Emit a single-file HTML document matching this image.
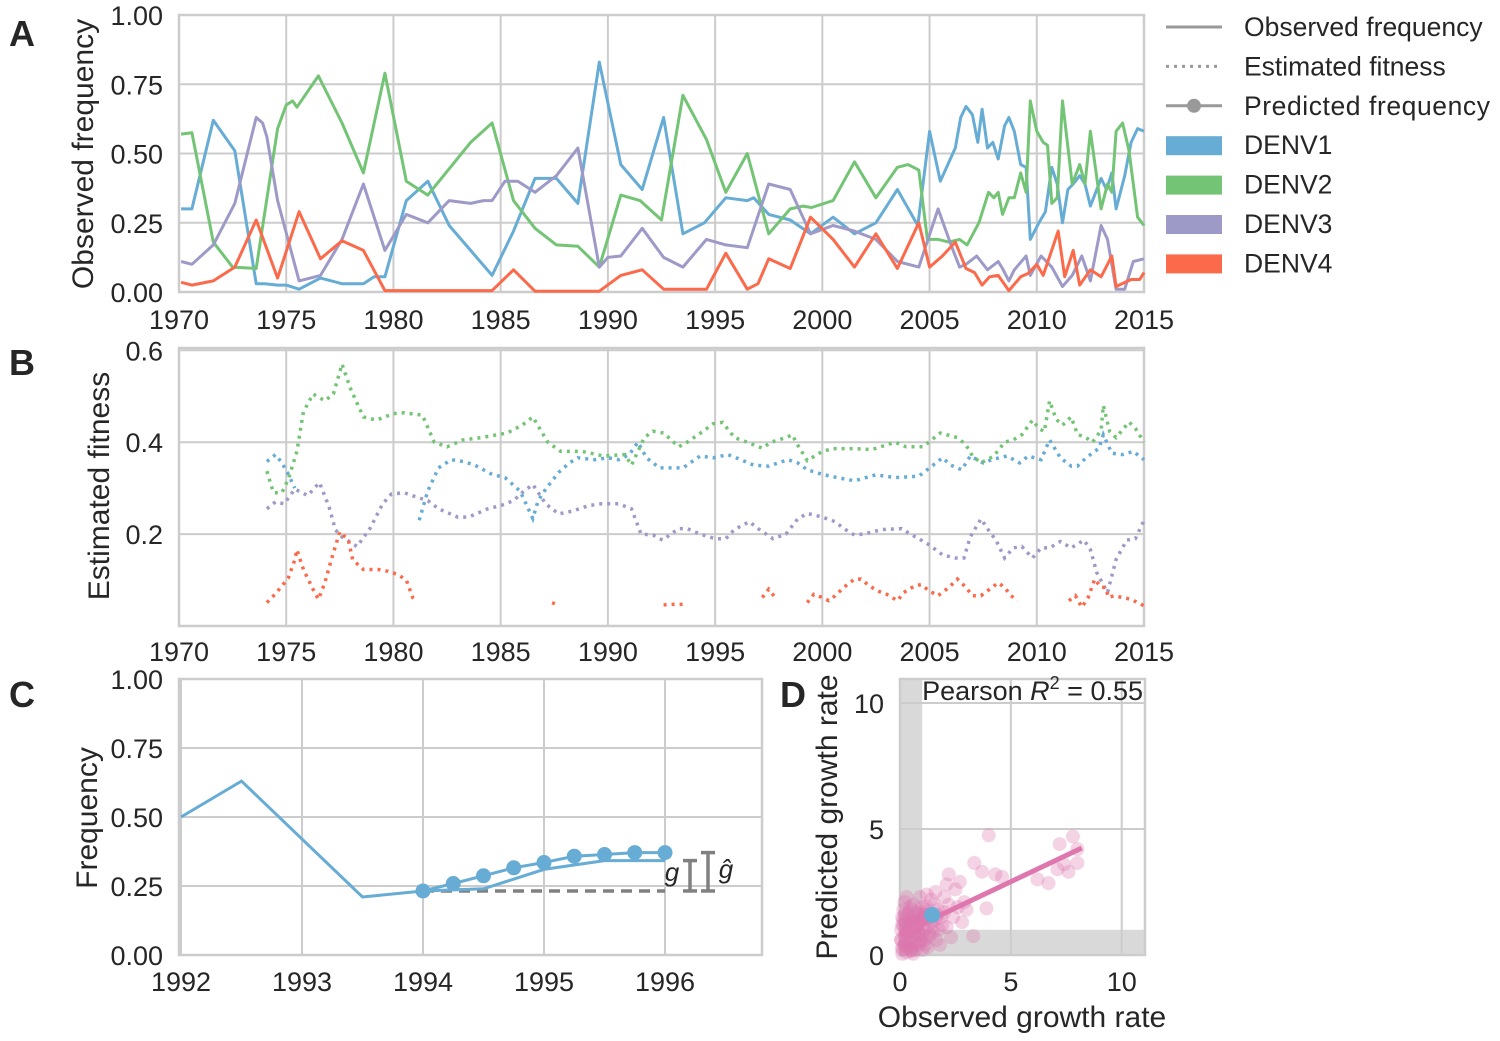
<!DOCTYPE html>
<html><head><meta charset="utf-8"><title>Dengue fitness figure</title>
<style>
html,body{margin:0;padding:0;background:#fff;}
svg{display:block;font-family:"Liberation Sans",sans-serif;}
</style></head>
<body>
<svg id="fig" width="1500" height="1041" viewBox="0 0 1500 1041" xmlns="http://www.w3.org/2000/svg"></svg>
<script>
// ---------- Panel A data ----------
const yearTicksA=[1970,1975,1980,1985,1990,1995,2000,2005,2010,2015];
const freqTicks=[0,0.25,0.5,0.75,1.0];
const freqTickLabels=["0.00","0.25","0.50","0.75","1.00"];
const denv1Years=[1970.1,1970.6,1971.6,1972.6,1973.6,1974.0,1974.6,1975.0,1975.6,1976.6,1977.6,1978.6,1979.1,1979.6,1980.6,1981.6,1982.6,1983.6,1984.6,1985.6,1986.6,1987.6,1988.6,1989.6,1990.6,1991.6,1992.6,1993.5,1994.5,1995.5,1996.5,1996.8,1997.5,1998.5,1999.45,2000.5,2001.5,2002.5,2003.5,2004.45,2005.0,2005.5,2006.2,2006.45,2006.7,2007.0,2007.25,2007.45,2007.7,2007.95,2008.2,2008.5,2008.7,2008.95,2009.25,2009.5,2009.7,2010.1,2010.4,2010.7,2010.95,2011.2,2011.45,2011.7,2012.0,2012.25,2012.5,2013.0,2013.25,2013.5,2013.7,2014.1,2014.4,2014.7,2015];
const denv1Freq=[0.30,0.30,0.62,0.51,0.03,0.03,0.025,0.025,0.01,0.05,0.03,0.03,0.055,0.055,0.33,0.40,0.24,0.15,0.06,0.22,0.41,0.41,0.32,0.83,0.46,0.37,0.63,0.21,0.25,0.34,0.33,0.34,0.28,0.26,0.21,0.27,0.21,0.25,0.37,0.24,0.58,0.40,0.52,0.63,0.67,0.64,0.54,0.66,0.52,0.54,0.48,0.60,0.63,0.58,0.46,0.45,0.19,0.25,0.29,0.45,0.39,0.25,0.37,0.39,0.42,0.39,0.31,0.41,0.37,0.43,0.30,0.42,0.54,0.59,0.58];
const denv2Years=[1970.1,1970.6,1971.6,1972.5,1973.6,1974.6,1975.0,1975.3,1975.5,1976.5,1977.6,1978.6,1979.6,1980.6,1981.6,1983.6,1984.6,1985.6,1986.6,1987.6,1988.6,1989.6,1990.6,1991.5,1992.5,1993.5,1994.6,1995.5,1996.5,1997.5,1998.5,1999.1,1999.5,2000.5,2001.5,2002.5,2003.5,2004.0,2004.5,2004.9,2005.4,2005.9,2006.4,2006.75,2007.3,2007.75,2008.0,2008.2,2008.4,2008.7,2008.95,2009.25,2009.5,2009.7,2010.0,2010.3,2010.5,2010.7,2010.95,2011.2,2011.65,2012.0,2012.25,2012.5,2013.0,2013.3,2013.5,2013.7,2014.0,2014.3,2014.7,2015];
const denv2Freq=[0.57,0.575,0.18,0.09,0.085,0.59,0.675,0.69,0.667,0.78,0.61,0.43,0.79,0.40,0.35,0.54,0.61,0.33,0.23,0.17,0.165,0.09,0.35,0.33,0.26,0.71,0.55,0.36,0.50,0.21,0.30,0.31,0.305,0.33,0.47,0.34,0.45,0.46,0.44,0.19,0.19,0.18,0.19,0.17,0.25,0.36,0.34,0.36,0.28,0.34,0.34,0.43,0.36,0.69,0.58,0.54,0.53,0.32,0.34,0.69,0.39,0.46,0.39,0.58,0.30,0.39,0.36,0.58,0.61,0.51,0.27,0.24];
const denv3Years=[1970.1,1970.6,1971.6,1972.6,1973.6,1973.9,1974.1,1974.6,1975.6,1976.6,1977.6,1978.6,1979.6,1980.6,1981.6,1982.6,1983.6,1984.2,1984.6,1985.2,1985.8,1986.6,1987.6,1988.6,1989.6,1990.0,1990.6,1991.6,1992.6,1993.5,1994.6,1995.5,1996.5,1997.5,1998.5,1999.45,2000.5,2001.5,2002.5,2003.5,2004.5,2005.4,2006.0,2006.4,2006.7,2007.2,2007.7,2008.2,2008.4,2008.7,2008.95,2009.5,2009.7,2010.2,2010.7,2011.2,2011.65,2012.1,2012.5,2013.0,2013.3,2013.7,2014.1,2014.5,2015];
const denv3Freq=[0.11,0.10,0.17,0.32,0.63,0.61,0.56,0.33,0.04,0.06,0.19,0.39,0.15,0.28,0.25,0.33,0.32,0.33,0.33,0.40,0.40,0.36,0.42,0.52,0.09,0.125,0.13,0.23,0.125,0.09,0.19,0.17,0.16,0.39,0.37,0.21,0.24,0.22,0.19,0.11,0.09,0.30,0.17,0.09,0.10,0.13,0.08,0.11,0.085,0.04,0.08,0.13,0.06,0.13,0.09,0.02,0.06,0.13,0.04,0.24,0.19,0.01,0.01,0.11,0.12];
const denv4Years=[1970.1,1970.6,1971.6,1972.6,1973.6,1974.6,1975.6,1976.6,1977.6,1978.6,1979.6,1984.6,1985.6,1986.6,1989.6,1990.6,1991.6,1992.6,1994.6,1995.5,1996.5,1997.0,1997.5,1998.5,1999.45,2000.5,2001.5,2002.5,2003.5,2004.5,2005.0,2005.6,2006.2,2006.7,2007.1,2007.45,2007.8,2008.2,2008.7,2009.25,2009.6,2010.0,2010.3,2011.0,2011.3,2011.7,2012.0,2012.5,2013.0,2013.5,2013.7,2014.4,2014.8,2015];
const denv4Freq=[0.035,0.025,0.04,0.09,0.26,0.05,0.29,0.12,0.185,0.15,0.005,0.005,0.08,0.003,0.003,0.06,0.08,0.01,0.01,0.14,0.01,0.03,0.12,0.085,0.27,0.19,0.09,0.21,0.085,0.25,0.09,0.13,0.18,0.085,0.07,0.025,0.055,0.06,0.005,0.055,0.067,0.10,0.06,0.22,0.055,0.15,0.025,0.08,0.055,0.13,0.02,0.045,0.045,0.07];

// ---------- Panel B data (null = gap) ----------
const fitTicks=[0.2,0.4,0.6];
const fitTickLabels=["0.2","0.4","0.6"];
const fit2Years=[1974.1,1974.4,1974.8,1975.1,1975.5,1975.8,1976.25,1976.8,1977.2,1977.6,1978,1978.6,1979.2,1980,1980.5,1981.35,1981.9,1982.5,1983.25,1984.1,1985.3,1986,1986.5,1987.2,1987.8,1988.8,1989.8,1990.8,1991.1,1991.7,1992.1,1992.6,1993.3,1993.7,1994.5,1994.9,1995.35,1995.9,1996.5,1997.2,1997.6,1998.3,1998.6,1998.85,1999.3,2000.0,2000.5,2001.5,2002.3,2003.4,2003.9,2004.7,2005.1,2005.5,2006.3,2006.7,2007.0,2007.4,2008,2008.5,2008.9,2009.3,2009.8,2010.1,2010.35,2010.6,2010.9,2011.2,2011.6,2011.9,2012.3,2012.6,2013,2013.1,2013.4,2013.7,2014.3,2014.6,2015];
const fit2Vals=[0.337,0.29,0.29,0.32,0.38,0.466,0.505,0.49,0.505,0.57,0.516,0.455,0.448,0.462,0.464,0.459,0.40,0.39,0.405,0.41,0.42,0.437,0.455,0.40,0.38,0.38,0.37,0.373,0.35,0.41,0.424,0.42,0.39,0.40,0.426,0.44,0.443,0.41,0.40,0.387,0.40,0.41,0.416,0.394,0.36,0.38,0.386,0.386,0.384,0.40,0.39,0.39,0.405,0.42,0.41,0.394,0.37,0.355,0.37,0.40,0.405,0.416,0.448,0.43,0.423,0.49,0.45,0.437,0.455,0.417,0.41,0.40,0.426,0.48,0.423,0.41,0.444,0.43,0.40];
const fit1Years=[1974.1,1974.5,1974.8,1975.1,1975.4,null,1981.2,1981.6,1982.1,1982.7,1983.25,1983.8,1984.6,1985.2,1985.9,1986.5,1986.75,1987.1,1987.7,1988.2,1988.6,1989.4,1990,1990.5,1991,1991.4,1991.8,1992.4,1993.5,1994.3,1994.9,1995.6,1996.2,1996.8,1997.5,1998.4,1998.85,1999.3,2000,2000.7,2001.5,2002.5,2003.4,2004.5,2005,2005.6,2006,2006.5,2006.9,2007.5,2007.9,2008.6,2009.2,2009.6,2010.2,2010.6,2011.1,2011.6,2011.9,2012.3,2012.9,2013.1,2013.5,2014,2014.5,2015];
const fit1Vals=[0.358,0.373,0.355,0.33,0.30,null,0.23,0.294,0.344,0.362,0.358,0.35,0.33,0.323,0.294,0.234,0.273,0.298,0.334,0.355,0.366,0.362,0.366,0.362,0.373,0.40,0.366,0.344,0.344,0.37,0.366,0.373,0.362,0.35,0.348,0.362,0.355,0.34,0.33,0.323,0.316,0.329,0.323,0.326,0.344,0.366,0.35,0.34,0.37,0.355,0.362,0.37,0.355,0.37,0.362,0.405,0.366,0.348,0.348,0.366,0.387,0.416,0.376,0.373,0.38,0.362];
const fit3Years=[1974.1,1974.5,1974.9,1975.4,1976,1976.55,1977,1977.3,1977.6,1978.3,1978.9,1979.5,1979.9,1980.5,1981.1,1981.6,1982.1,1983,1983.5,1984.4,1985,1985.6,1986,1986.5,1987.1,1987.7,1988.35,1989.1,1989.7,1990.5,1991.1,1991.55,1992.1,1992.55,1993.3,1993.7,1994.3,1995,1995.5,1995.9,1996.6,1997,1997.7,1998.3,1998.85,1999.3,2000,2000.6,2001,2001.5,2001.9,2002.8,2003.7,2004.1,2004.5,2005,2005.6,2006.2,2006.6,2006.9,2007.4,2007.8,2008.1,2008.5,2008.9,2009.3,2009.8,2010.2,2010.6,2011.1,2011.6,2012.2,2012.5,2012.8,2013.3,2013.7,2014.2,2014.6,2015];
const fit3Vals=[0.255,0.27,0.266,0.298,0.284,0.312,0.259,0.209,0.194,0.173,0.212,0.266,0.287,0.29,0.28,0.273,0.255,0.237,0.237,0.255,0.262,0.273,0.29,0.308,0.266,0.244,0.25,0.262,0.266,0.266,0.255,0.20,0.198,0.187,0.212,0.212,0.20,0.19,0.19,0.21,0.227,0.212,0.19,0.20,0.233,0.245,0.237,0.227,0.212,0.198,0.20,0.21,0.212,0.20,0.19,0.176,0.155,0.148,0.148,0.194,0.233,0.205,0.187,0.148,0.17,0.173,0.148,0.17,0.17,0.184,0.17,0.187,0.166,0.116,0.073,0.145,0.187,0.19,0.23];
const fit4Years=[1974.1,1974.5,1974.8,1975.1,1975.4,1975.5,1975.8,1976.25,1976.5,1976.8,1977.1,1977.5,1977.9,1978.1,1978.6,1979.3,1979.75,1980.2,1980.6,1980.9,1981.1,null,1987.4,1987.55,null,1992.6,1993.0,1993.5,null,1997.2,1997.5,1997.8,null,1999.3,1999.6,2000,2000.3,2000.6,2001,2001.5,2001.8,2002.2,2002.6,2003,2003.5,2003.8,2004.3,2004.6,2005,2005.4,2005.9,2006.3,2006.7,2007,2007.4,2007.8,2008.2,2008.5,2008.8,2009.1,null,2011.5,2011.8,2012.1,2012.4,2012.7,2013.0,2013.2,2013.35,2013.6,2014.4,2015];
const fit4Vals=[0.051,0.07,0.087,0.105,0.144,0.166,0.123,0.08,0.058,0.094,0.144,0.205,0.187,0.144,0.123,0.123,0.119,0.112,0.10,0.062,0.055,null,0.051,0.048,null,0.046,0.047,0.047,null,0.062,0.08,0.062,null,0.051,0.069,0.062,0.055,0.066,0.084,0.102,0.102,0.087,0.076,0.069,0.055,0.073,0.087,0.09,0.076,0.066,0.084,0.102,0.084,0.066,0.066,0.08,0.094,0.084,0.066,0.055,null,0.055,0.066,0.041,0.062,0.102,0.084,0.084,0.062,0.066,0.058,0.044];

// ---------- Panel C data ----------
const yearTicksC=[1992,1993,1994,1995,1996];
const obsCYears=[1992,1992.5,1993.5,1994,1994.5,1995,1995.5,1996];
const obsCFreq=[0.50,0.63,0.21,0.232,0.24,0.31,0.342,0.342];
const predCYears=[1994,1994.25,1994.5,1994.75,1995,1995.25,1995.5,1995.75,1996];
const predCFreq=[0.232,0.259,0.287,0.316,0.335,0.358,0.364,0.371,0.371];

// ---------- Panel D data ----------
const growthTicks=[0,5,10];
const obsGrowth=[0.1,0.2,0.3,0.15,0.4,0.5,0.6,0.7,0.8,0.9,1.0,0.2,0.3,0.5,0.6,1.1,1.2,1.3,1.4,1.5,1.6,1.7,1.8,1.9,2.0,2.2,2.4,2.6,0.05,0.1,0.25,0.35,0.45,0.55,0.65,0.75,0.85,0.95,1.05,1.15,1.25,1.35,1.45,1.55,1.65,1.75,1.85,2.1,2.3,2.8,0.1,0.2,0.4,0.6,0.8,1.0,1.2,0.9,0.3,1.6,2.0,2.5,3.0,0.05,0.15,0.35,0.7,1.1,0.5,0.25,
0.05,0.1,0.2,0.3,0.4,0.5,0.6,0.7,0.8,0.9,1.0,1.1,1.2,1.3,0.15,0.25,0.35,0.45,0.55,0.65,0.75,0.85,0.95,1.05,1.15,1.25,0.1,0.3,0.5,0.7,0.9,1.1,0.2,0.4,0.6,0.8,1.0,1.3,1.5,1.7,
4.0,3.35,2.2,2.7,3.7,4.3,4.6,3.9,3.3,6.2,6.7,7.1,7.4,7.8,8.0,8.0,7.2,2.9,2.1,7.6];
const predGrowth=[0.3,0.8,1.2,1.8,0.5,1.0,1.5,0.2,0.9,1.3,1.9,2.1,0.1,0.3,2.0,0.6,1.1,1.6,2.2,0.9,1.4,1.8,0.4,1.2,1.7,2.0,1.5,1.9,1.0,1.5,0.6,1.6,1.9,0.7,1.1,1.7,0.4,1.5,1.2,1.8,0.3,0.8,1.3,2.0,0.6,1.0,1.5,1.1,0.7,1.3,0.05,0.4,1.4,0.05,1.4,0.2,2.4,2.3,2.3,2.5,2.3,2.6,1.8,0.6,1.2,0.9,0.5,1.6,0.15,1.3,
0.6,1.2,0.4,0.9,1.7,0.2,1.3,0.8,1.6,0.5,1.4,1.0,1.9,0.7,1.4,1.0,0.3,1.2,1.8,0.9,1.3,1.1,0.6,1.6,0.4,1.5,0.2,0.5,1.3,1.1,0.8,1.7,1.6,0.9,0.4,1.2,0.8,1.4,1.1,1.6,
4.75,3.65,3.2,2.9,3.3,3.2,3.1,1.85,0.75,3.0,2.85,3.4,3.6,4.7,3.65,4.2,4.4,2.1,2.8,3.3];
const highlightObs=[1.45];
const highlightPred=[1.59];

// ---------- drawing ----------
const NS="http://www.w3.org/2000/svg";
const svg=document.getElementById('fig');
const C1="#67acd5",C2="#74c476",C3="#9e9ac8",C4="#fb6a4a",GRID="#cccccc";
function mk(tag,attrs,parent){const e=document.createElementNS(NS,tag);for(const k in attrs)e.setAttribute(k,attrs[k]);(parent||svg).appendChild(e);return e;}
function lin(d0,d1,r0,r1){return v=>r0+(v-d0)/(d1-d0)*(r1-r0);}
function pathD(xs,ys,sx,sy){let d="",pen=false;const n=Math.min(xs.length,ys.length);for(let i=0;i<n;i++){if(ys[i]==null||xs[i]==null){pen=false;continue;}d+=(pen?"L":"M")+sx(xs[i]).toFixed(1)+","+sy(ys[i]).toFixed(1);pen=true;}return d;}
function txt(s,x,y,size,anchor,parent,extra){const t=mk('text',Object.assign({x:x,y:y,'font-size':size,'text-anchor':anchor||'middle',fill:'#262626'},extra||{}),parent);t.textContent=s;return t;}
function frame(g,x0,y0,x1,y1){const r=mk('rect',{x:x0,y:y0,width:x1-x0,height:y1-y0,fill:'none',stroke:GRID,'stroke-width':2.5},g);}
const TICK=27, TITLE=30;

// ===== Panel A =====
const gA=mk('g',{});


const AX0=179,AX1=1144,AY0=15,AY1=292;
const sxA=lin(1970,2015,AX0,AX1), syA=lin(0,1,AY1,AY0);
yearTicksA.forEach(v=>{mk('line',{x1:sxA(v),x2:sxA(v),y1:AY0,y2:AY1,stroke:GRID,'stroke-width':2},gA);const t=txt(String(v),sxA(v),329,TICK,'middle',gA);});
freqTicks.forEach((v,i)=>{mk('line',{x1:AX0,x2:AX1,y1:syA(v),y2:syA(v),stroke:GRID,'stroke-width':2},gA);const t=txt(freqTickLabels[i],163,syA(v)+10,TICK,'end',gA);});
frame(gA,AX0,AY0,AX1,AY1);
[[denv1Years,denv1Freq,C1,'denv1-line'],[denv2Years,denv2Freq,C2,'denv2-line'],[denv3Years,denv3Freq,C3,'denv3-line'],[denv4Years,denv4Freq,C4,'denv4-line']].forEach(s=>{
  const p=mk('path',{d:pathD(s[0],s[1],sxA,syA),fill:'none',stroke:s[2],'stroke-width':3,'stroke-linejoin':'round'},gA);
  
  
});
const yA=txt('Observed frequency',0,0,TITLE,'middle',gA,{transform:'translate(93,154) rotate(-90)'});


const lA=txt('A',22,46,36,'middle',gA,{'font-weight':'bold'});



// Legend
const gL=mk('g',{});


const legendRows=[['Observed frequency','solid'],['Estimated fitness','dot'],['Predicted frequency','marker'],['DENV1',C1],['DENV2',C2],['DENV3',C3],['DENV4',C4]];
legendRows.forEach((r,i)=>{
  const y=27+i*39.4;
  const g=mk('g',{},gL);
  
  
  if(r[1]==='solid'){mk('line',{x1:1166,x2:1222,y1:y,y2:y,stroke:'#999',"stroke-width":3},g);}
  else if(r[1]==='dot'){mk('line',{x1:1166,x2:1222,y1:y,y2:y,stroke:'#999',"stroke-width":3,'stroke-dasharray':'3,5'},g);}
  else if(r[1]==='marker'){mk('line',{x1:1166,x2:1222,y1:y,y2:y,stroke:'#999',"stroke-width":3},g);mk('circle',{cx:1194,cy:y,r:7,fill:'#999'},g);}
  else{mk('rect',{x:1166,y:y-9,width:56,height:19,fill:r[1]},g);}
  txt(r[0],1244,y+9,26.5,'start',g,{textLength:r[0]==='Predicted frequency'?246:null});
});
gL.querySelectorAll('text').forEach(t=>{if(t.getAttribute('textLength')==='null')t.removeAttribute('textLength');});

// ===== Panel B =====
const gB=mk('g',{});


const BX0=179,BX1=1144,BY0=348,BY1=626;
const sxB=lin(1970,2015,BX0,BX1), syB=lin(0,0.605,BY1,BY0);
yearTicksA.forEach(v=>{mk('line',{x1:sxB(v),x2:sxB(v),y1:BY0,y2:BY1,stroke:GRID,'stroke-width':2},gB);const t=txt(String(v),sxB(v),661,TICK,'middle',gB);});
fitTicks.forEach((v,i)=>{mk('line',{x1:BX0,x2:BX1,y1:syB(v),y2:syB(v),stroke:GRID,'stroke-width':2},gB);const t=txt(fitTickLabels[i],163,syB(v)+10,TICK,'end',gB);});
frame(gB,BX0,BY0,BX1,BY1);
[[fit1Years,fit1Vals,C1,'denv1-fitness'],[fit2Years,fit2Vals,C2,'denv2-fitness'],[fit3Years,fit3Vals,C3,'denv3-fitness'],[fit4Years,fit4Vals,C4,'denv4-fitness']].forEach(s=>{
  const p=mk('path',{d:pathD(s[0],s[1],sxB,syB),fill:'none',stroke:s[2],'stroke-width':3.5,'stroke-dasharray':'3,5'},gB);
  
  
});
const yB=txt('Estimated fitness',0,0,TITLE,'middle',gB,{transform:'translate(109,486) rotate(-90)'});


const lB=txt('B',22,375,36,'middle',gB,{'font-weight':'bold'});



// ===== Panel C =====
const gC=mk('g',{});


const CX0=179,CX1=762,CY0=679,CY1=955;
const sxC=lin(1992,1996,181,665), syC=lin(0,1,CY1,CY0);
yearTicksC.forEach(v=>{mk('line',{x1:sxC(v),x2:sxC(v),y1:CY0,y2:CY1,stroke:GRID,'stroke-width':2},gC);const t=txt(String(v),sxC(v),991,TICK,'middle',gC);});
freqTicks.forEach((v,i)=>{mk('line',{x1:CX0,x2:CX1,y1:syC(v),y2:syC(v),stroke:GRID,'stroke-width':2},gC);const t=txt(freqTickLabels[i],163,syC(v)+10,TICK,'end',gC);});
frame(gC,CX0,CY0,CX1,CY1);
const base=predCFreq[0];
const dash=mk('line',{x1:sxC(predCYears[0]),x2:sxC(predCYears[predCYears.length-1]),y1:syC(base),y2:syC(base),stroke:'#808080','stroke-width':3.5,'stroke-dasharray':'11,7'},gC);


const obsC=mk('path',{d:pathD(obsCYears,obsCFreq,sxC,syC),fill:'none',stroke:C1,'stroke-width':3},gC);


const predC=mk('path',{d:pathD(predCYears,predCFreq,sxC,syC),fill:'none',stroke:C1,'stroke-width':3},gC);


predCYears.forEach((y,i)=>{const c=mk('circle',{cx:sxC(y),cy:syC(predCFreq[i]),r:7.5,fill:C1},gC);});
function errbar(x,v0,v1,name){const g=mk('g',{stroke:'#808080','stroke-width':3.5},gC);mk('line',{x1:x,x2:x,y1:syC(v0),y2:syC(v1)},g);mk('line',{x1:x-7,x2:x+7,y1:syC(v0),y2:syC(v0)},g);mk('line',{x1:x-7,x2:x+7,y1:syC(v1),y2:syC(v1)},g);}
const obsEnd=obsCFreq[obsCFreq.length-1], predEnd=predCFreq[predCFreq.length-1];
errbar(690,base,obsEnd,'observed-growth-bar');
errbar(708,base,predEnd,'predicted-growth-bar');
const gl=txt('g',672,881,26,'middle',gC,{'font-style':'italic'});


const ghl=txt('ĝ',726,878,26,'middle',gC,{'font-style':'italic'});


const yC=txt('Frequency',0,0,TITLE,'middle',gC,{transform:'translate(97,818) rotate(-90)'});


const lC=txt('C',22,707,36,'middle',gC,{'font-weight':'bold'});



// ===== Panel D =====
const gD=mk('g',{});


const DX0=900,DX1=1145,DY0=679,DY1=955;
const sxD=lin(0,11.05,DX0,DX1), syD=lin(0,10.95,DY1,DY0);
mk('rect',{x:sxD(0),y:DY0,width:sxD(1)-sxD(0),height:DY1-DY0,fill:'#d9d9d9'},gD);
mk('rect',{x:DX0,y:syD(1),width:DX1-DX0,height:syD(0)-syD(1),fill:'#d9d9d9'},gD);
growthTicks.forEach(v=>{
  mk('line',{x1:sxD(v),x2:sxD(v),y1:DY0,y2:DY1,stroke:GRID,'stroke-width':2},gD);
  mk('line',{x1:DX0,x2:DX1,y1:syD(v),y2:syD(v),stroke:GRID,'stroke-width':2},gD);
  const tx=txt(String(v),sxD(v),991,TICK,'middle',gD);
  const ty=txt(String(v),884,syD(v)+10,TICK,'end',gD);
});
frame(gD,DX0,DY0,DX1,DY1);
const gS=mk('g',{},gD);


obsGrowth.forEach((x,i)=>{const c=mk('circle',{cx:sxD(x),cy:syD(predGrowth[i]),r:7,fill:'#de77ae','fill-opacity':0.32},gS);});
(function(){const n=obsGrowth.length;let mx=0,my=0;for(let i=0;i<n;i++){mx+=obsGrowth[i];my+=predGrowth[i];}mx/=n;my/=n;let sxy=0,sxx=0;for(let i=0;i<n;i++){sxy+=(obsGrowth[i]-mx)*(predGrowth[i]-my);sxx+=(obsGrowth[i]-mx)**2;}const b=sxy/sxx,a=my-b*mx;const xmax=Math.max(...obsGrowth)+0.2;
const l=mk('line',{x1:sxD(0),y1:syD(a),x2:sxD(xmax),y2:syD(a+b*xmax),stroke:'#de77ae','stroke-width':5,'stroke-linecap':'butt'},gD);

})();
const hp=mk('circle',{cx:sxD(highlightObs[0]),cy:syD(highlightPred[0]),r:8,fill:C1},gD);


const rt=mk('text',{x:1143,y:700,'font-size':27,'text-anchor':'end',fill:'#262626'},gD);
rt.innerHTML='Pearson <tspan font-style="italic">R</tspan><tspan dy="-11" font-size="18">2</tspan><tspan dy="11"> = 0.55</tspan>';


const xD=txt('Observed growth rate',1022,1027,TITLE,'middle',gD);


const yD=txt('Predicted growth rate',0,0,TITLE,'middle',gD,{transform:'translate(837,817) rotate(-90)'});


const lD=txt('D',793,707,36,'middle',gD,{'font-weight':'bold'});


</script>
</body></html>
